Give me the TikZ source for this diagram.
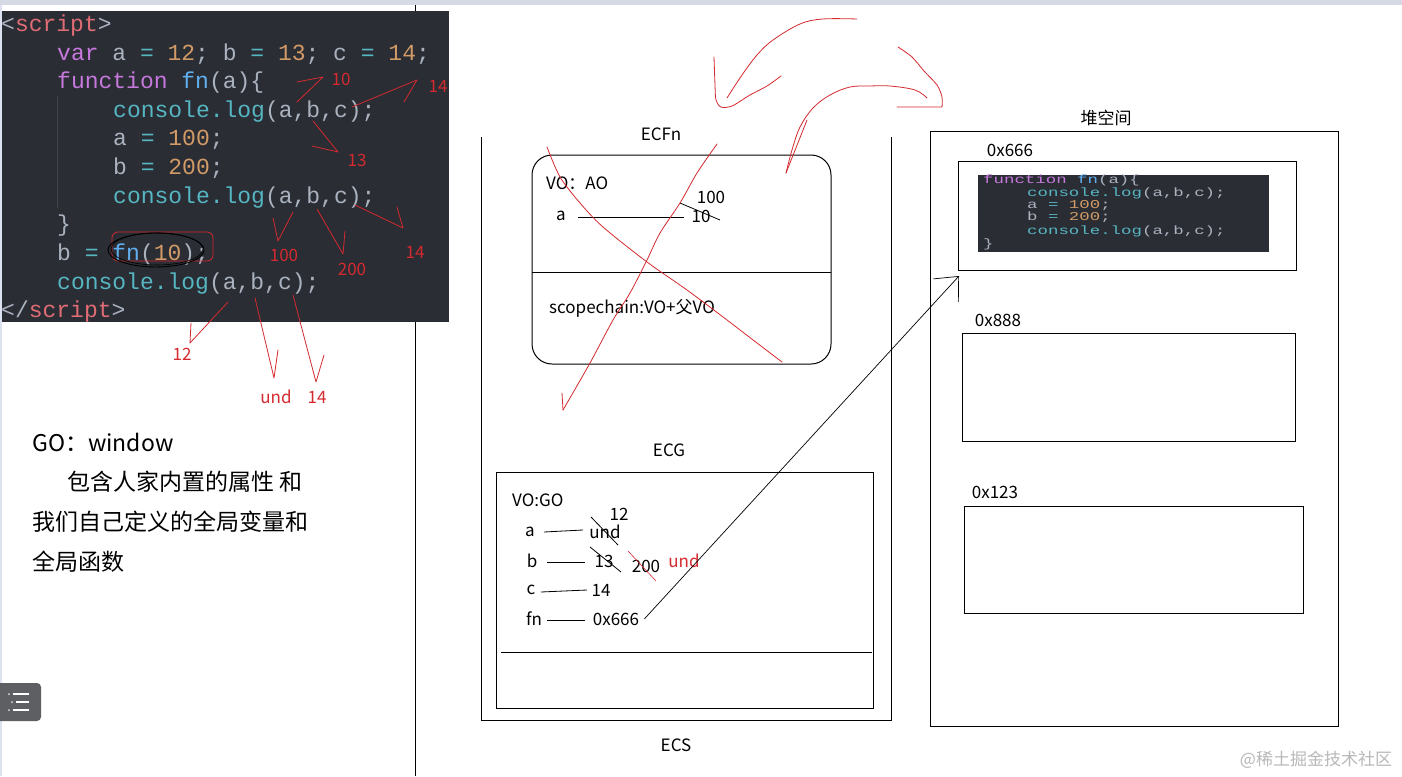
\documentclass[tikz,border=0pt]{standalone}
\usepackage{fontspec}
\setmainfont{Noto Sans CJK SC}
\newfontfamily\codefont{Liberation Mono}
\newfontfamily\minifont[FakeStretch=1.45]{Liberation Mono}
\usetikzlibrary{arrows.meta}
\definecolor{annred}{HTML}{D42A2F}
\definecolor{codebg}{HTML}{2A2D34}
\definecolor{cpurple}{HTML}{C678DD}
\definecolor{cred}{HTML}{E06C75}
\definecolor{cgray}{HTML}{ABB2BF}
\definecolor{ccyan}{HTML}{56B6C2}
\definecolor{corange}{HTML}{D19A66}
\definecolor{cblue}{HTML}{61AFEF}
\definecolor{topbar}{HTML}{D6DAE4}
\definecolor{sidestrip}{HTML}{DDE2F0}
\definecolor{menugray}{HTML}{5E5F63}
\definecolor{wmgray}{HTML}{B8B8B8}
\definecolor{guide}{HTML}{3E424B}
\newcommand\tkP[1]{\textcolor{cpurple}{#1}}
\newcommand\tkR[1]{\textcolor{cred}{#1}}
\newcommand\tkG[1]{\textcolor{cgray}{#1}}
\newcommand\tkC[1]{\textcolor{ccyan}{#1}}
\newcommand\tkO[1]{\textcolor{corange}{#1}}
\newcommand\tkB[1]{\textcolor{cblue}{#1}}
\begin{document}
\begin{tikzpicture}[x=1pt,y=-1pt,
  lbl/.style={font=\fontsize{17}{17}\selectfont, inner sep=1pt},
  bigtxt/.style={font=\fontsize{23}{23}\selectfont, inner sep=0pt, anchor=west},
  ann/.style={draw=annred, line width=0.8pt, line cap=round, line join=round},
  anntext/.style={text=annred, font=\fontsize{17}{17}\selectfont, inner sep=0pt},
  codeln/.style={anchor=west, inner sep=0pt, font=\codefont\fontsize{23}{23}\selectfont, text height=16pt, text depth=5pt},
  minicode/.style={anchor=west, inner sep=0pt, font=\minifont\fontsize{12}{12}\selectfont, text height=8pt, text depth=3pt},
  boxline/.style={draw, line width=1pt},
  thin/.style={line width=0.8pt}
]
\useasboundingbox (0,0) rectangle (1402,776);
\fill[white] (0,0) rectangle (1402,776);
\fill[topbar] (0,0) rectangle (1402,5);
\fill[sidestrip] (0,5) rectangle (2,776);
\draw[line width=1pt] (415,5) -- (415,776);

% ---------- code panel ----------
\fill[codebg] (2,11) rectangle (449,322);
\draw[guide, line width=1pt] (57,96) -- (57,208);
\node[codeln] (l1) at (1,26) {\tkG{<}\tkR{script}\tkG{>}};
\node[codeln] (l2) at (57,55) {\tkP{var} \tkG{a} \tkC{=} \tkO{12}\tkG{;} \tkG{b} \tkC{=} \tkO{13}\tkG{;} \tkG{c} \tkC{=} \tkO{14}\tkG{;}};
\node[codeln] (l3) at (57,83) {\tkP{function} \tkB{fn}\tkG{(a)\{}};
\node[codeln] (l4) at (113,112) {\tkC{console.log}\tkG{(a,b,c);}};
\node[codeln] (l5) at (113,140) {\tkG{a} \tkC{=} \tkO{100}\tkG{;}};
\node[codeln] (l6) at (113,169) {\tkG{b} \tkC{=} \tkO{200}\tkG{;}};
\node[codeln] (l7) at (113,198) {\tkC{console.log}\tkG{(a,b,c);}};
\node[codeln] (l8) at (57,226) {\tkG{\}}};
\node[codeln] (l9) at (57,255) {\tkG{b} \tkC{=} \tkB{fn}\tkG{(}\tkO{10}\tkG{);}};
\node[codeln] (l10) at (57,284) {\tkC{console.log}\tkG{(a,b,c);}};
\node[codeln] (l11) at (1,312) {\tkG{</}\tkR{script}\tkG{>}};

% marks around fn(10)
\draw[annred, line width=0.8pt, rounded corners=6pt] (112,232) rectangle (213,261);
\draw[line width=0.9pt] (156,250) ellipse [x radius=48pt, y radius=17pt];
\draw[line width=0.6pt] (157,249) ellipse [x radius=46pt, y radius=16pt];

% red annotations
\draw[ann] (297,102) -- (323,77) (297,82) -- (323,77);
\node[anntext] (r10) at (341,79) {10};
\draw[ann] (352,107) -- (417,80) (404,102) -- (417,80);
\node[anntext] (r14a) at (438,86) {14};
\draw[ann] (313,121) -- (338,152) (312,146) -- (338,152);
\node[anntext] (r13) at (357,160) {13};
\draw[ann] (293,212) -- (278,241) (273,218) -- (278,241);
\node[anntext] (r100) at (284,255) {100};
\draw[ann] (317,209) -- (343,254) (345,231) -- (343,254);
\node[anntext] (r200) at (352,269) {200};
\draw[ann] (355,205) -- (403,228) (397,207) -- (403,228);
\node[anntext] (r14b) at (415,252) {14};
\draw[ann] (228,302) -- (190,343) (191,323) -- (190,343);
\node[anntext] (r12) at (182,354) {12};
\draw[ann] (255,298) -- (274,378) (278,350) -- (274,378);
\node[anntext] (rund) at (276,397) {und};
\draw[ann] (293,295) -- (316,382) (324,355) -- (316,382);
\node[anntext] (r14c) at (317,397) {14};

% left text
\node[bigtxt] (go) at (32,442) {GO：window};
\node[bigtxt] (t1) at (67,482) {包含人家内置的属性 和};
\node[bigtxt] (t2) at (32,522) {我们自己定义的全局变量和};
\node[bigtxt] (t3) at (32,562) {全局函数};

% menu icon
\fill[menugray, rounded corners=4pt] (-6,683) rectangle (41,721);
\draw[white, line width=1.6pt] (13,694) -- (29,694) (16,702) -- (29,702) (13,710) -- (29,710);
\fill[white!80!menugray] (9,694) circle (1pt) (12,702) circle (1pt) (9,710) circle (1pt);

% ---------- ECS stack ----------
\draw[line width=1pt] (481,137) -- (481,720) -- (891,720) -- (891,137);
\node[lbl] (ecs) at (676,745) {ECS};
\node[lbl] (ecfn) at (661,134) {ECFn};
\draw[line width=1pt, rounded corners=20pt] (532,155) rectangle (831,364);
\draw[line width=1pt] (532,272) -- (831,272);
\node[lbl, anchor=west] (voao) at (545,183) {VO：AO};
\node[lbl] (fa) at (561,216) {a};
\node[lbl] (f10) at (701,216) {10};
\draw[thin] (578,217) -- (684,217);
\draw[thin] (680,203) -- (720,220);
\node[lbl] (f100) at (711,197) {100};
\node[lbl, anchor=west] (scope) at (548,308) {scopechain:VO+父VO};

\node[lbl] (ecg) at (669,450) {ECG};
\draw[line width=1pt] (496,472) rectangle (873,708);
\draw[line width=1pt] (501,652) -- (872,652);
\node[lbl, anchor=west] (vogo) at (511,500) {VO:GO};
\node[lbl] (ga) at (530,532) {a};
\node[lbl] (gund) at (605,532) {und};
\draw[thin] (ga.east) ++(8,0) -- (583,530);
\node[lbl] (g12) at (619,514) {12};
\draw[thin] (591,517) -- (618,545);
\node[lbl] (gb) at (532,561) {b};
\node[lbl] (g13) at (604,561) {13};
\draw[thin] (547,562) -- (585,562);
\draw[thin] (590,547) -- (621,572);
\node[lbl] (g200) at (646,566) {200};
\draw[annred, line width=0.6pt] (628,551) -- (656,581);
\node[lbl, text=annred] (gund2) at (684,561) {und};
\node[lbl] (gc) at (531,590) {c};
\node[lbl] (g14) at (601,590) {14};
\draw[thin] (541,592) -- (587,590);
\node[lbl] (gfn) at (534,619) {fn};
\node[lbl] (g666) at (616,619) {0x666};
\draw[thin] (547,620) -- (585,620);

% ---------- heap ----------
\node[lbl] (heap) at (1106,118) {堆空间};
\draw[line width=1pt] (930,131) rectangle (1338,726);
\node[lbl] (a666) at (1010,150) {0x666};
\node[boxline, inner sep=0pt, minimum width=338pt, minimum height=109pt, anchor=north west] (h666) at (958,161) {};
\fill[codebg] (978,175) rectangle (1269,252);
\node[minicode] (m1) at (983,181) {\tkP{function} \tkB{fn}\tkG{(a)\{}};
\node[minicode] (m2) at (1027,194) {\tkC{console.log}\tkG{(a,b,c);}};
\node[minicode] (m3) at (1027,206) {\tkG{a} \tkC{=} \tkO{100}\tkG{;}};
\node[minicode] (m4) at (1027,218) {\tkG{b} \tkC{=} \tkO{200}\tkG{;}};
\node[minicode] (m5) at (1027,232) {\tkC{console.log}\tkG{(a,b,c);}};
\node[minicode] (m6) at (983,245) {\tkG{\}}};
\node[lbl] (a888) at (998,320) {0x888};
\node[boxline, inner sep=0pt, minimum width=333pt, minimum height=108pt, anchor=north west] (h888) at (962,333) {};
\node[lbl] (a123) at (995,492) {0x123};
\node[boxline, inner sep=0pt, minimum width=339pt, minimum height=107pt, anchor=north west] (h123) at (964,506) {};

% pointer arrow
\draw[line width=0.7pt, -{Straight Barb[length=19pt,width=34pt]}] ([xshift=4pt]g666.east) -- ([xshift=1pt,yshift=-5pt]h666.south west);

% ---------- red X over ECFn ----------
\draw[ann] plot[smooth, tension=0.5] coordinates {(547,147) (560,177) (580,203) (603,227) (647,262) (687,290) (727,320) (757,343) (782,362)};
\draw[ann] plot[smooth, tension=0.5] coordinates {(717,144) (697,173) (680,203) (660,233) (647,260) (630,293) (613,320) (590,363) (563,410)};
\draw[ann] (562,393) -- (563,410);

% ---------- red swap arrows ----------
\draw[ann] plot[smooth, tension=0.6] coordinates {(857,19) (823,19) (800,24) (773,40) (757,55) (742,75) (727,98)};
\draw[ann] plot[smooth, tension=0.5] coordinates {(714,57) (715,85) (716,100) (721,107) (732,106) (750,95) (767,86) (781,76)};
\draw[ann] plot[smooth, tension=0.6] coordinates {(786,173) (792,150) (800,127) (813,108) (830,95) (850,87) (870,86) (890,86) (915,90) (927,98)};
\draw[ann] plot[smooth, tension=0.5] coordinates {(898,47) (912,57) (924,71) (937,85) (942,97) (942,107)} -- (897,107);
\draw[ann] (786,173) -- (807,120);

% watermark
\node[font=\fontsize{17}{17}\selectfont, text=wmgray, inner sep=0pt] (wm) at (1316,760) {@稀土掘金技术社区};
\end{tikzpicture}
\end{document}
